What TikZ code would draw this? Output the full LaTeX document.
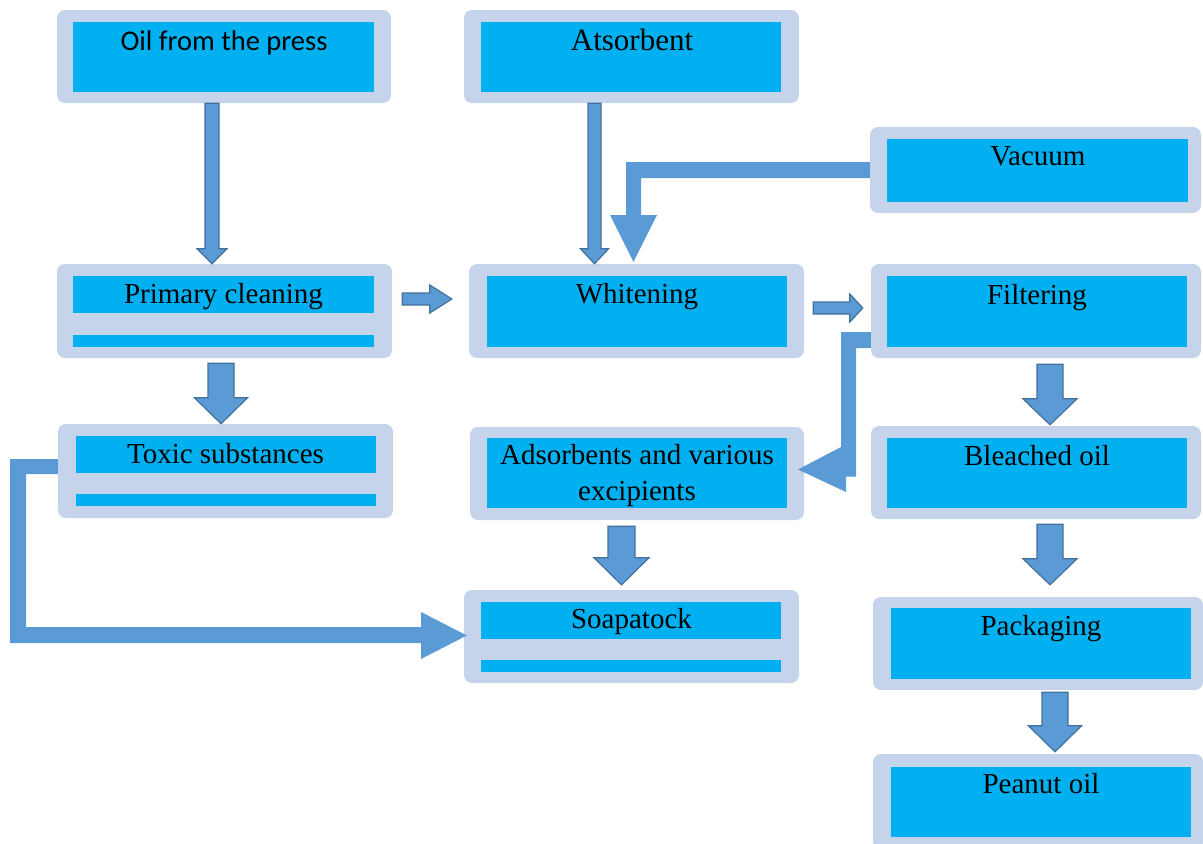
\documentclass[tikz,border=0pt]{standalone}
\usepackage{fontspec}
\setmainfont{Liberation Serif}
\newfontfamily\calib{Carlito}
\usetikzlibrary{calc,fit}
\definecolor{outerc}{HTML}{C5D4EA}
\definecolor{innerc}{HTML}{00B0F0}
\definecolor{arrfill}{HTML}{5B9BD5}
\definecolor{arrline}{HTML}{41719C}
\tikzset{
  obox/.style={rectangle, rounded corners=8bp, fill=outerc, draw=none, inner sep=0pt},
  band/.style={fill=innerc, draw=none},
  lbl/.style={anchor=base, inner sep=0pt, align=center, font=\fontsize{29bp}{36bp}\selectfont},
  blk/.style={fill=arrfill, draw=arrline, line width=1.2bp, line join=miter},
  bent/.style={fill=arrfill, draw=none},
}
% vertical block arrow: style, from, to, x, startgap, endgap, halfshaft, halfhead, headlen
\newcommand\vblk[9]{%
  \coordinate (vbS) at (#4,0 |- #2.south);
  \coordinate (vbE) at (#4,0 |- #3.north);
  \draw[#1] ($(vbS)+(-#7,#5)$) -- ($(vbS)+(#7,#5)$) -- ($(vbE)+(#7,-#6-#9)$)
    -- ($(vbE)+(#8,-#6-#9)$) -- ($(vbE)+(0,-#6)$) -- ($(vbE)+(-#8,-#6-#9)$)
    -- ($(vbE)+(-#7,-#6-#9)$) -- cycle;}
% horizontal block arrow: style, from, to, y, startgap, endgap, halfshaft, halfhead, headlen
\newcommand\hblk[9]{%
  \coordinate (hbS) at (#2.east |- 0,#4);
  \coordinate (hbE) at (#3.west |- 0,#4);
  \draw[#1] ($(hbS)+(#5,-#7)$) -- ($(hbE)+(-#6-#9,-#7)$) -- ($(hbE)+(-#6-#9,-#8)$)
    -- ($(hbE)+(-#6,0)$) -- ($(hbE)+(-#6-#9,#8)$) -- ($(hbE)+(-#6-#9,#7)$)
    -- ($(hbS)+(#5,#7)$) -- cycle;}
\begin{document}
\begin{tikzpicture}[x=1bp,y=-1bp]
\useasboundingbox (0,0) rectangle (1203,844);
% outer boxes
\node[obox, fit={(57,10) (391,103)}] (oil) {};
\node[obox, fit={(464,10) (799,103)}] (ats) {};
\node[obox, fit={(870,127) (1201,213)}] (vac) {};
\node[obox, fit={(57,264) (392,358)}] (prim) {};
\node[obox, fit={(58,424) (393,518)}] (tox) {};
\node[obox, fit={(469,264) (804,358)}] (whit) {};
\node[obox, fit={(871,264) (1201,358)}] (filt) {};
\node[obox, fit={(871,426) (1201,519)}] (blea) {};
\node[obox, fit={(470,427) (804,520)}] (ads) {};
\node[obox, fit={(464,590) (799,683)}] (soap) {};
\node[obox, fit={(873,597) (1203,690)}] (pack) {};
\node[obox, fit={(873,754) (1203,850)}] (pean) {};
% inner bands
\fill[band] (73,22) rectangle (374,92);
\fill[band] (481,22) rectangle (781,92);
\fill[band] (887,139) rectangle (1188,202);
\fill[band] (73,276) rectangle (374,313);
\fill[band] (73,335) rectangle (374,347);
\fill[band] (76,436) rectangle (376,473);
\fill[band] (76,494) rectangle (376,506);
\fill[band] (487,276) rectangle (787,347);
\fill[band] (887,276) rectangle (1187,347);
\fill[band] (887,438) rectangle (1187,508);
\fill[band] (487,438) rectangle (787,508);
\fill[band] (481,602) rectangle (781,639);
\fill[band] (481,660) rectangle (781,672);
\fill[band] (891,608) rectangle (1191,679);
\fill[band] (891,767) rectangle (1191,837);
% labels
\node[lbl, font=\calib\fontsize{28.5bp}{34bp}\selectfont] (toil) at (224,50) {Oil from the press};
\node[lbl, font=\fontsize{31bp}{36bp}\selectfont] (tats) at (632,50) {Atsorbent};
\node[lbl] (tvac) at (1038,165) {Vacuum};
\node[lbl] (tprim) at (223.5,303) {Primary cleaning};
\node[lbl] (twhit) at (637,303) {Whitening};
\node[lbl] (tfilt) at (1037,304) {Filtering};
\node[lbl] (ttox) at (225.5,463) {Toxic substances};
\node[lbl] (tblea) at (1037,465) {Bleached oil};
\node[lbl] (tads) at (637,500) {Adsorbents and various\\excipients};
\node[lbl] (tsoap) at (631.5,628) {Soapatock};
\node[lbl] (tpack) at (1041,635) {Packaging};
\node[lbl] (tpean) at (1041,793) {Peanut oil};
% block arrows
\vblk{blk}{oil}{prim}{212}{0}{0}{7}{15}{15}
\vblk{blk}{ats}{whit}{594.5}{0}{0}{6.5}{14}{15}
\vblk{blk}{prim}{tox}{221}{5}{0}{13}{26.5}{26}
\vblk{blk}{ads}{soap}{621.5}{6}{5}{13.5}{27.5}{27}
\vblk{blk}{filt}{blea}{1050}{6}{1}{13}{27}{26}
\vblk{blk}{blea}{pack}{1050}{5}{12}{13}{27}{26}
\vblk{blk}{pack}{pean}{1055}{2}{2}{13}{26.5}{26}
\hblk{blk}{prim}{whit}{299}{10}{17}{6}{14}{22}
\hblk{blk}{whit}{filt}{308}{9}{8}{6}{14}{13}
% bent arrows
\fill[bent] (vac.west |- 0,162) -- (626,162) -- (626,215) -- (610,215)
  -- ($(633.5,0 |- whit.north)+(0,-2)$) -- (657,215) -- (641,215) -- (641,178)
  -- (vac.west |- 0,178) -- cycle;
\fill[bent] (filt.west |- 0,332) -- (841,332) -- (841,447) -- (798,469.5)
  -- (846,492) -- (846,476.5) -- (856,476.5) -- (856,348)
  -- (filt.west |- 0,348) -- cycle;
\fill[bent] (tox.west |- 0,459) -- (10,459) -- (10,643) -- (421,643) -- (421,659)
  -- ($(soap.west |- 0,635.5)+(3,0)$) -- (421,612) -- (421,627) -- (26,627)
  -- (26,474) -- (tox.west |- 0,474) -- cycle;
\end{tikzpicture}
\end{document}
